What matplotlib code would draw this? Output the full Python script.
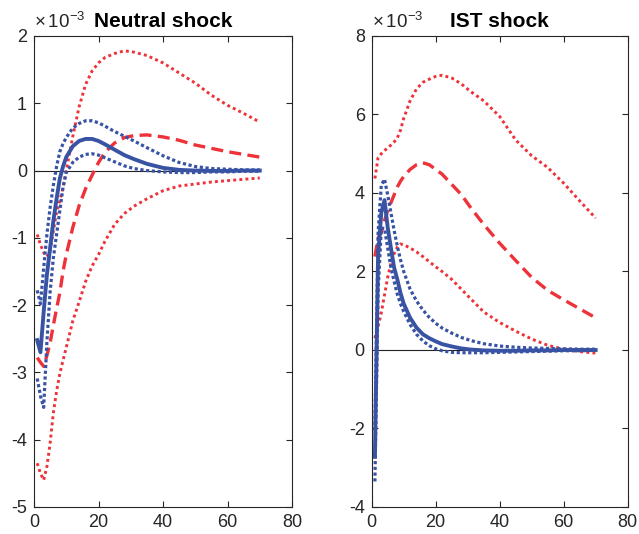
import numpy as np
import matplotlib.pyplot as plt

plt.rcParams['font.family'] = ['Liberation Sans', 'DejaVu Sans']
plt.rcParams['mathtext.fontset'] = 'custom'
plt.rcParams['mathtext.rm'] = 'Liberation Sans'
plt.rcParams['axes.unicode_minus'] = False

# horizon (quarters), shared by all series
h = [1, 2, 3, 4, 5, 6, 7, 8, 9, 10, 12, 14, 16, 18, 20, 22, 25, 28, 31, 35,
     40, 45, 50, 55, 60, 65, 70]

# Neutral shock (x 1e-3)
neu_blue = [-2.52, -2.70, -2.10, -1.55, -1.15, -0.75, -0.42, -0.12, 0.06, 0.20,
            0.36, 0.44, 0.47, 0.47, 0.44, 0.39, 0.31, 0.23, 0.17, 0.10,
            0.04, 0.01, 0.00, -0.005, -0.005, 0.0, 0.0]
neu_blue_hi = [-1.78, -1.98, -1.45, -0.95, -0.55, -0.22, 0.06, 0.28, 0.40, 0.49,
               0.63, 0.70, 0.74, 0.74, 0.71, 0.66, 0.58, 0.51, 0.44, 0.34,
               0.22, 0.12, 0.06, 0.03, 0.02, 0.01, 0.01]
neu_blue_lo = [-3.09, -3.35, -3.52, -2.55, -1.80, -1.30, -0.95, -0.60, -0.25, -0.03,
               0.12, 0.20, 0.24, 0.25, 0.23, 0.19, 0.13, 0.07, 0.03, 0.00,
               -0.02, -0.03, -0.03, -0.02, -0.02, -0.01, -0.01]
neu_red = [-2.78, -2.85, -2.91, -2.75, -2.56, -2.30, -2.05, -1.82, -1.50, -1.25,
           -0.85, -0.52, -0.27, -0.07, 0.12, 0.27, 0.41, 0.49, 0.52, 0.53,
           0.50, 0.45, 0.38, 0.33, 0.28, 0.24, 0.20]
neu_red_hi = [-0.95, -1.10, -1.22, -1.28, -1.20, -0.90, -0.62, -0.45, -0.25, 0.00,
              0.50, 0.95, 1.28, 1.48, 1.60, 1.68, 1.74, 1.78, 1.76, 1.71,
              1.60, 1.45, 1.30, 1.12, 0.97, 0.85, 0.72]
neu_red_lo = [-4.35, -4.50, -4.60, -4.40, -4.05, -3.60, -3.28, -3.02, -2.82, -2.63,
              -2.24, -1.95, -1.65, -1.42, -1.25, -1.05, -0.80, -0.64, -0.53, -0.42,
              -0.30, -0.23, -0.20, -0.17, -0.15, -0.13, -0.11]

# IST shock (x 1e-3)
ist_blue = [-2.72, 2.40, 3.50, 3.82, 3.12, 2.60, 2.10, 1.80, 1.45, 1.18,
            0.82, 0.57, 0.40, 0.30, 0.22, 0.15, 0.09, 0.04, 0.01, -0.01,
            -0.02, -0.02, -0.01, -0.01, 0.0, 0.0, 0.0]
ist_blue_hi = [-2.05, 3.00, 4.20, 4.35, 3.95, 3.50, 3.05, 2.65, 2.30, 2.00,
               1.55, 1.25, 1.02, 0.83, 0.68, 0.56, 0.43, 0.32, 0.24, 0.16,
               0.10, 0.07, 0.05, 0.04, 0.03, 0.02, 0.02]
ist_blue_lo = [-3.35, 1.50, 3.10, 3.10, 2.60, 2.10, 1.75, 1.42, 1.18, 0.98,
               0.65, 0.40, 0.23, 0.11, 0.03, -0.02, -0.06, -0.07, -0.07, -0.07,
               -0.06, -0.05, -0.04, -0.03, -0.02, -0.02, -0.01]
ist_red = [2.38, 2.85, 3.00, 3.30, 3.55, 3.75, 3.95, 4.15, 4.30, 4.42,
           4.60, 4.72, 4.77, 4.72, 4.60, 4.48, 4.22, 3.96, 3.62, 3.20,
           2.72, 2.28, 1.85, 1.52, 1.28, 1.05, 0.82]
ist_red_hi = [4.37, 4.90, 5.00, 5.08, 5.15, 5.22, 5.30, 5.40, 5.60, 5.90,
              6.35, 6.65, 6.82, 6.90, 6.97, 7.00, 6.93, 6.78, 6.58, 6.35,
              5.95, 5.35, 4.95, 4.65, 4.25, 3.80, 3.36]
ist_red_lo = [0.30, 0.60, 0.95, 1.40, 1.85, 2.20, 2.45, 2.62, 2.70, 2.68,
              2.60, 2.50, 2.38, 2.25, 2.12, 2.00, 1.80, 1.55, 1.30, 0.97,
              0.70, 0.48, 0.28, 0.12, 0.02, -0.04, -0.08]

blue = '#3953a4'
red = '#ee3239'
dot_b = (0, (1, 0.8))
dot_r = (0, (1, 1.1))

fig = plt.figure(figsize=(6.39, 5.34), dpi=100)
ax1 = fig.add_axes([0.0532, 0.0506, 0.4038, 0.882])
ax2 = fig.add_axes([0.5817, 0.0506, 0.4005, 0.882])

panels = [
    (ax1, 'Neutral shock', neu_blue, neu_blue_hi, neu_blue_lo, neu_red, neu_red_hi, neu_red_lo,
     (-5, 2), [-5, -4, -3, -2, -1, 0, 1, 2], 0),
    (ax2, 'IST shock', ist_blue, ist_blue_hi, ist_blue_lo, ist_red, ist_red_hi, ist_red_lo,
     (-4, 8), [-4, -2, 0, 2, 4, 6, 8], 1),
]

for ax, title, b, bh, bl, r, rh, rl, ylim, yt, x0 in panels:
    ax.plot([x0, 70], [0, 0], color='#222222', lw=0.8)
    ax.plot(h, rh, color=red, lw=2.1, linestyle=dot_r)
    ax.plot(h, rl, color=red, lw=2.1, linestyle=dot_r)
    ax.plot(h, r, color=red, lw=2.4, linestyle=(0, (3.6, 1.9)))
    ax.plot(h, bh, color=blue, lw=2.3, linestyle=dot_b)
    ax.plot(h, bl, color=blue, lw=2.3, linestyle=dot_b)
    ax.plot(h, b, color=blue, lw=2.8)
    ax.set_xlim(0, 80)
    ax.set_ylim(*ylim)
    ax.set_xticks([0, 20, 40, 60, 80])
    ax.set_yticks(yt)
    ax.tick_params(direction='in', top=True, right=True, labelsize=13,
                   colors='#262626', length=4, width=0.8, pad=5)
    for s in ax.spines.values():
        s.set_color('#262626')
        s.set_linewidth(0.8)
    ax.set_title(title, fontsize=15, fontweight='bold', pad=6.5)
    ax.text(0.0, 1.008, r'$\times\,10^{-3}$', transform=ax.transAxes,
            fontsize=13.5, color='#262626', ha='left', va='bottom')

fig.savefig('out.png', dpi=100)
